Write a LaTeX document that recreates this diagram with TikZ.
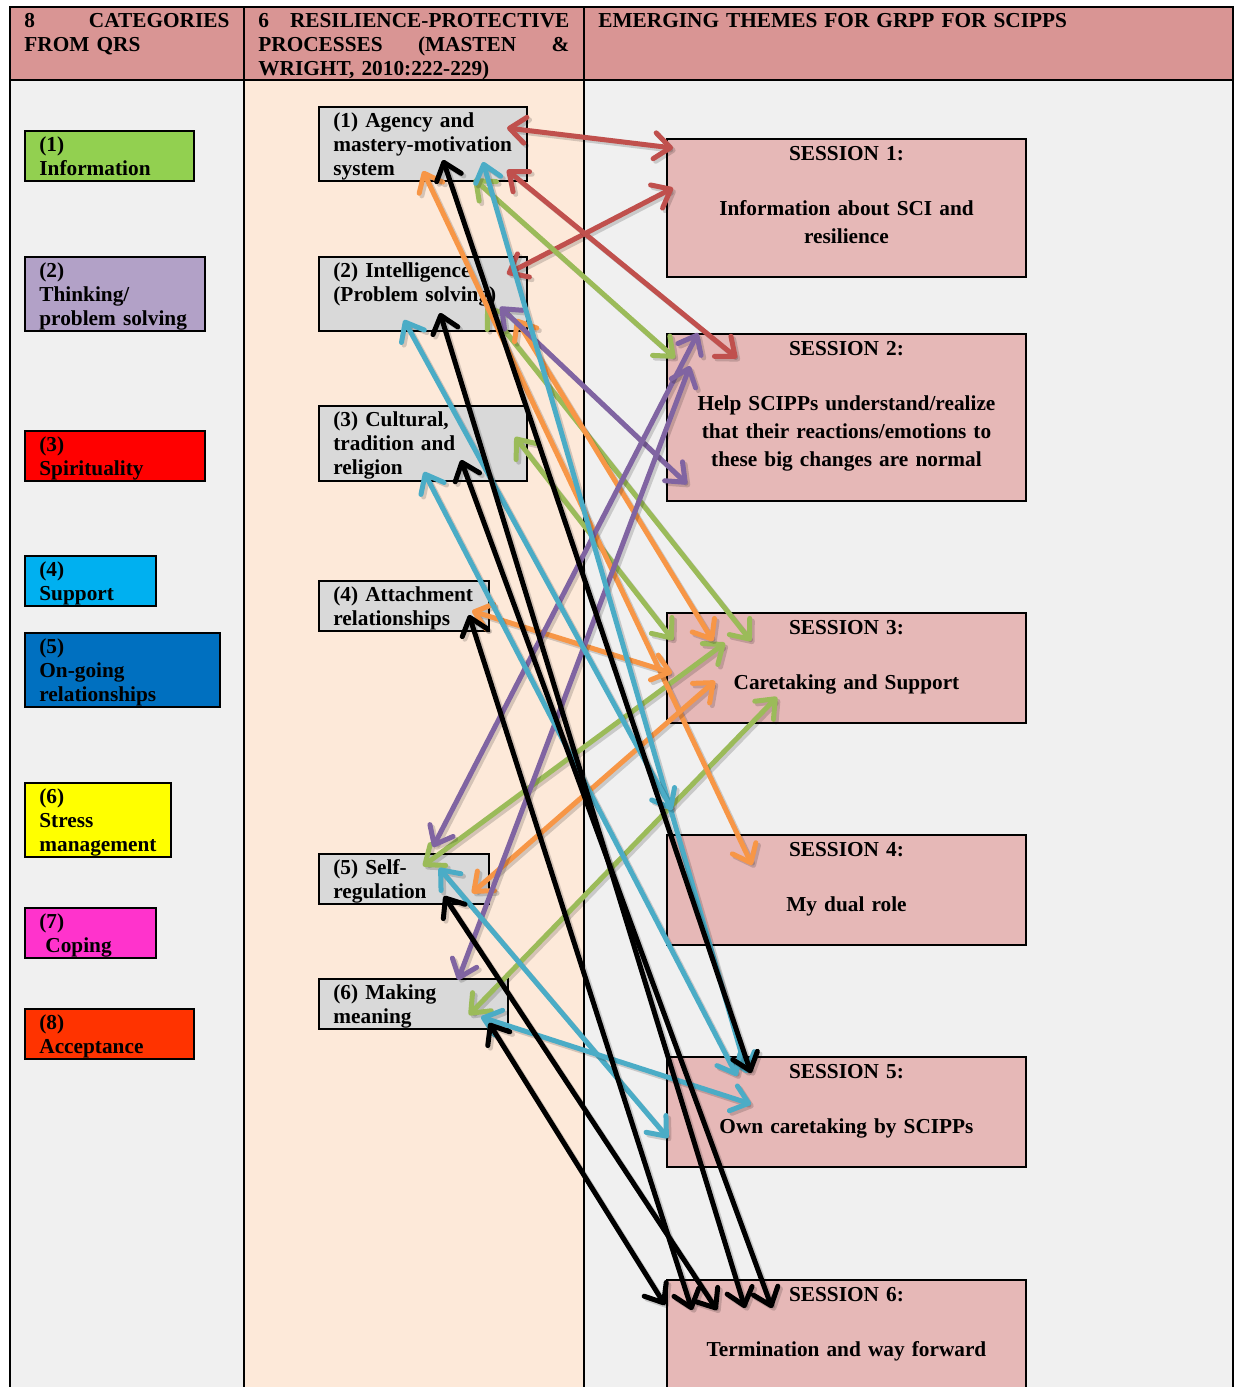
\documentclass[tikz,border=0pt]{standalone}
\usepackage{fontspec}
\setmainfont{Liberation Serif}
\usetikzlibrary{arrows.meta}

\definecolor{hdr}{HTML}{D99594}
\definecolor{colgray}{HTML}{F0F0F0}
\definecolor{colpeach}{HTML}{FDE9D9}
\definecolor{procgray}{HTML}{D9D9D9}
\definecolor{sessionpink}{HTML}{E6B8B7}
\definecolor{catgreen}{HTML}{92D050}
\definecolor{catpurple}{HTML}{B2A1C7}
\definecolor{catred}{HTML}{FF0000}
\definecolor{catcyan}{HTML}{00B0F0}
\definecolor{catblue}{HTML}{0070C0}
\definecolor{catyellow}{HTML}{FFFF00}
\definecolor{catpink}{HTML}{FF33CC}
\definecolor{catorange}{HTML}{FF3300}
\definecolor{lnred}{HTML}{C0504D}
\definecolor{lngreen}{HTML}{9BBB59}
\definecolor{lnorange}{HTML}{F79646}
\definecolor{lnpurple}{HTML}{8064A2}
\definecolor{lnblue}{HTML}{4BACC6}

\tikzset{
  frame/.style={draw=black, line width=1pt},
  box/.style={draw=black, line width=1pt, anchor=north west, inner sep=0pt, outer sep=0pt},
  txt/.style={anchor=base west, inner sep=0pt, align=left,
    font=\fontsize{10.65pt}{12pt}\selectfont\bfseries},
  sesstext/.style={anchor=base, inner sep=0pt, align=center, text width=179.5pt,
    font=\fontsize{10.65pt}{14pt}\selectfont\bfseries},
  linkline/.style={line width=2.5pt, line cap=round, line join=round,
    >={Straight Barb[length=8pt,width=13pt,round]}, <->},
  linkshade/.style={linkline, draw=black, draw opacity=0.16,
    transform canvas={shift={(1.3pt,-1.3pt)}}},
}

% one double-headed connector with its soft shadow
\newcommand\linkarrow[3]{%
  \draw[linkshade] #2 -- #3;
  \draw[linkline, draw=#1] #2 -- #3;}

\begin{document}
\begin{tikzpicture}[x=0.5pt, y=-0.5pt]
\useasboundingbox (0,0) rectangle (1234,1387);
\clip (0,0) rectangle (1234,1387);

% table background and rules
\fill[hdr] (10,7) rectangle (1233,80);
\fill[colgray] (10,80) rectangle (244,1400);
\fill[colpeach] (244,80) rectangle (584,1400);
\fill[colgray] (584,80) rectangle (1233,1400);
\draw[frame] (10,1400) -- (10,7) -- (1233,7) -- (1233,1400);
\draw[frame] (10,80) -- (1233,80);
\draw[frame] (244,7) -- (244,1400);
\draw[frame] (584,7) -- (584,1400);

% column headings
\node[txt, text width=102.5pt] (h1) at (24,27) {8\hfill CATEGORIES\\FROM QRS};
\node[txt, text width=155.5pt] (h2) at (258,27)
  {6\hfill RESILIENCE-PROTECTIVE\\PROCESSES\hfill (MASTEN\hfill \&\\WRIGHT, 2010:222-229)};
\node[txt, text width=300pt] (h3) at (598,27) {EMERGING THEMES FOR GRPP FOR SCIPPS};

% categories from QRS
\node[box, fill=catgreen,  minimum width=84.5pt, minimum height=25pt] (c1) at (25,131) {};
\node[box, fill=catpurple, minimum width=90pt,   minimum height=37pt] (c2) at (25,257) {};
\node[box, fill=catred,    minimum width=90pt,   minimum height=25pt] (c3) at (25,431) {};
\node[box, fill=catcyan,   minimum width=65.5pt, minimum height=25pt] (c4) at (25,556) {};
\node[box, fill=catblue,   minimum width=97.5pt, minimum height=37pt] (c5) at (25,633) {};
\node[box, fill=catyellow, minimum width=73pt,   minimum height=37pt] (c6) at (25,783) {};
\node[box, fill=catpink,   minimum width=65.5pt, minimum height=25pt] (c7) at (25,908) {};
\node[box, fill=catorange, minimum width=84.5pt, minimum height=25pt] (c8) at (25,1009) {};
\node[txt, text width=85pt] (c1t) at ([shift={(14,20)}]c1.north west) {(1)\\Information};
\node[txt, text width=85pt] (c2t) at ([shift={(14,20)}]c2.north west) {(2)\\Thinking/\\problem solving};
\node[txt, text width=85pt] (c3t) at ([shift={(14,20)}]c3.north west) {(3)\\Spirituality};
\node[txt, text width=85pt] (c4t) at ([shift={(14,20)}]c4.north west) {(4)\\Support};
\node[txt, text width=85pt] (c5t) at ([shift={(14,20)}]c5.north west) {(5)\\On-going\\relationships};
\node[txt, text width=85pt] (c6t) at ([shift={(14,20)}]c6.north west) {(6)\\Stress\\management};
\node[txt, text width=85pt] (c7t) at ([shift={(14,20)}]c7.north west) {(7)\\\hspace*{3pt}Coping};
\node[txt, text width=85pt] (c8t) at ([shift={(14,20)}]c8.north west) {(8)\\Acceptance};

% resilience-protective processes
\node[box, fill=procgray, minimum width=104pt,  minimum height=37pt]   (m1) at (319,107) {};
\node[box, fill=procgray, minimum width=104pt,  minimum height=37pt]   (m2) at (319,257) {};
\node[box, fill=procgray, minimum width=104pt,  minimum height=37.5pt] (m3) at (319,406) {};
\node[box, fill=procgray, minimum width=85pt,   minimum height=25pt]   (m4) at (319,581) {};
\node[box, fill=procgray, minimum width=85pt,   minimum height=25pt]   (m5) at (319,854) {};
\node[box, fill=procgray, minimum width=94.5pt, minimum height=25pt]   (m6) at (319,979) {};
\node[txt, text width=100pt] (m1t) at ([shift={(14,20)}]m1.north west) {(1) Agency and\\mastery-motivation\\system};
\node[txt, text width=100pt] (m2t) at ([shift={(14,20)}]m2.north west) {(2) Intelligence\\(Problem solving)};
\node[txt, text width=100pt] (m3t) at ([shift={(14,20)}]m3.north west) {(3) Cultural,\\tradition and\\religion};
\node[txt, text width=100pt] (m4t) at ([shift={(14,20)}]m4.north west) {(4) Attachment\\relationships};
\node[txt, text width=100pt] (m5t) at ([shift={(14,20)}]m5.north west) {(5) Self-\\regulation};
\node[txt, text width=100pt] (m6t) at ([shift={(14,20)}]m6.north west) {(6) Making\\meaning};

% emerging themes: the six sessions
\node[box, fill=sessionpink, minimum width=179.5pt, minimum height=69pt]   (s1) at (667,139) {};
\node[box, fill=sessionpink, minimum width=179.5pt, minimum height=83.5pt] (s2) at (667,334) {};
\node[box, fill=sessionpink, minimum width=179.5pt, minimum height=55pt]   (s3) at (667,613) {};
\node[box, fill=sessionpink, minimum width=179.5pt, minimum height=55pt]   (s4) at (667,835) {};
\node[box, fill=sessionpink, minimum width=179.5pt, minimum height=55pt]   (s5) at (667,1057) {};
\node[box, fill=sessionpink, minimum width=179.5pt, minimum height=70pt]   (s6) at (667,1280) {};
\node[sesstext] (s1t) at ([shift={(0,21)}]s1.north) {SESSION 1:\\[13.5pt]Information about SCI and\\resilience};
\node[sesstext] (s2t) at ([shift={(0,21)}]s2.north) {SESSION 2:\\[13.5pt]Help SCIPPs understand/realize\\that their reactions/emotions to\\these big changes are normal};
\node[sesstext] (s3t) at ([shift={(0,21)}]s3.north) {SESSION 3:\\[13.5pt]Caretaking and Support};
\node[sesstext] (s4t) at ([shift={(0,21)}]s4.north) {SESSION 4:\\[13.5pt]My dual role};
\node[sesstext] (s5t) at ([shift={(0,21)}]s5.north) {SESSION 5:\\[13.5pt]Own caretaking by SCIPPs};
\node[sesstext] (s6t) at ([shift={(0,21)}]s6.north) {SESSION 6:\\[13.5pt]Termination and way forward};

% red links
\linkarrow{lnred}{([shift={(188,21)}]m1.north west)}{([shift={(6,9)}]s1.north west)}
\linkarrow{lnred}{([shift={(188,17)}]m2.north west)}{([shift={(6,49)}]s1.north west)}
\linkarrow{lnred}{([shift={(188,63)}]m1.north west)}{([shift={(70,24)}]s2.north west)}
% green links
\linkarrow{lngreen}{([shift={(155,72)}]m1.north west)}{([shift={(8,24)}]s2.north west)}
\linkarrow{lngreen}{([shift={(167,50)}]m2.north west)}{([shift={(84,28)}]s3.north west)}
\linkarrow{lngreen}{([shift={(196,31)}]m3.north west)}{([shift={(6,27)}]s3.north west)}
\linkarrow{lngreen}{([shift={(58,30)}]s3.north west)}{([shift={(104,12)}]m5.north west)}
\linkarrow{lngreen}{([shift={(110,84)}]s3.north west)}{([shift={(150,36)}]m6.north west)}
% orange links
\linkarrow{lnorange}{([shift={(104,64)}]m1.north west)}{([shift={(85,30)}]s4.north west)}
\linkarrow{lnorange}{([shift={(197,62)}]m2.north west)}{([shift={(46,28)}]s3.north west)}
\linkarrow{lnorange}{([shift={(153,30)}]m4.north west)}{([shift={(5,60)}]s3.north west)}
\linkarrow{lnorange}{([shift={(48,68)}]s3.north west)}{([shift={(153,39)}]m5.north west)}
% purple links
\linkarrow{lnpurple}{([shift={(181,50)}]m2.north west)}{([shift={(20,150)}]s2.north west)}
\linkarrow{lnpurple}{([shift={(31,-1)}]s2.north west)}{([shift={(114,-7)}]m5.north west)}
\linkarrow{lnpurple}{([shift={(23,32)}]s2.north west)}{([shift={(139,1)}]m6.north west)}
% blue links
\linkarrow{lnblue}{([shift={(164,55)}]m1.north west)}{([shift={(80,16)}]s5.north west)}
\linkarrow{lnblue}{([shift={(85,63)}]m2.north west)}{([shift={(5,-25)}]s4.north west)}
\linkarrow{lnblue}{([shift={(105,66)}]m3.north west)}{([shift={(70,19)}]s5.north west)}
\linkarrow{lnblue}{([shift={(120,14)}]m5.north west)}{([shift={(1,81)}]s5.north west)}
\linkarrow{lnblue}{([shift={(162,38)}]m6.north west)}{([shift={(84,47)}]s5.north west)}
% black links
\linkarrow{black}{([shift={(124,53)}]m1.north west)}{([shift={(84,16)}]s5.north west)}
\linkarrow{black}{([shift={(121,56)}]m2.north west)}{([shift={(78,28)}]s6.north west)}
\linkarrow{black}{([shift={(142,54)}]m3.north west)}{([shift={(105,28)}]s6.north west)}
\linkarrow{black}{([shift={(150,34)}]m4.north west)}{([shift={(25,30)}]s6.north west)}
\linkarrow{black}{([shift={(125,42)}]m5.north west)}{([shift={(50,30)}]s6.north west)}
\linkarrow{black}{([shift={(170,44)}]m6.north west)}{([shift={(-2,25)}]s6.north west)}
\end{tikzpicture}
\end{document}
